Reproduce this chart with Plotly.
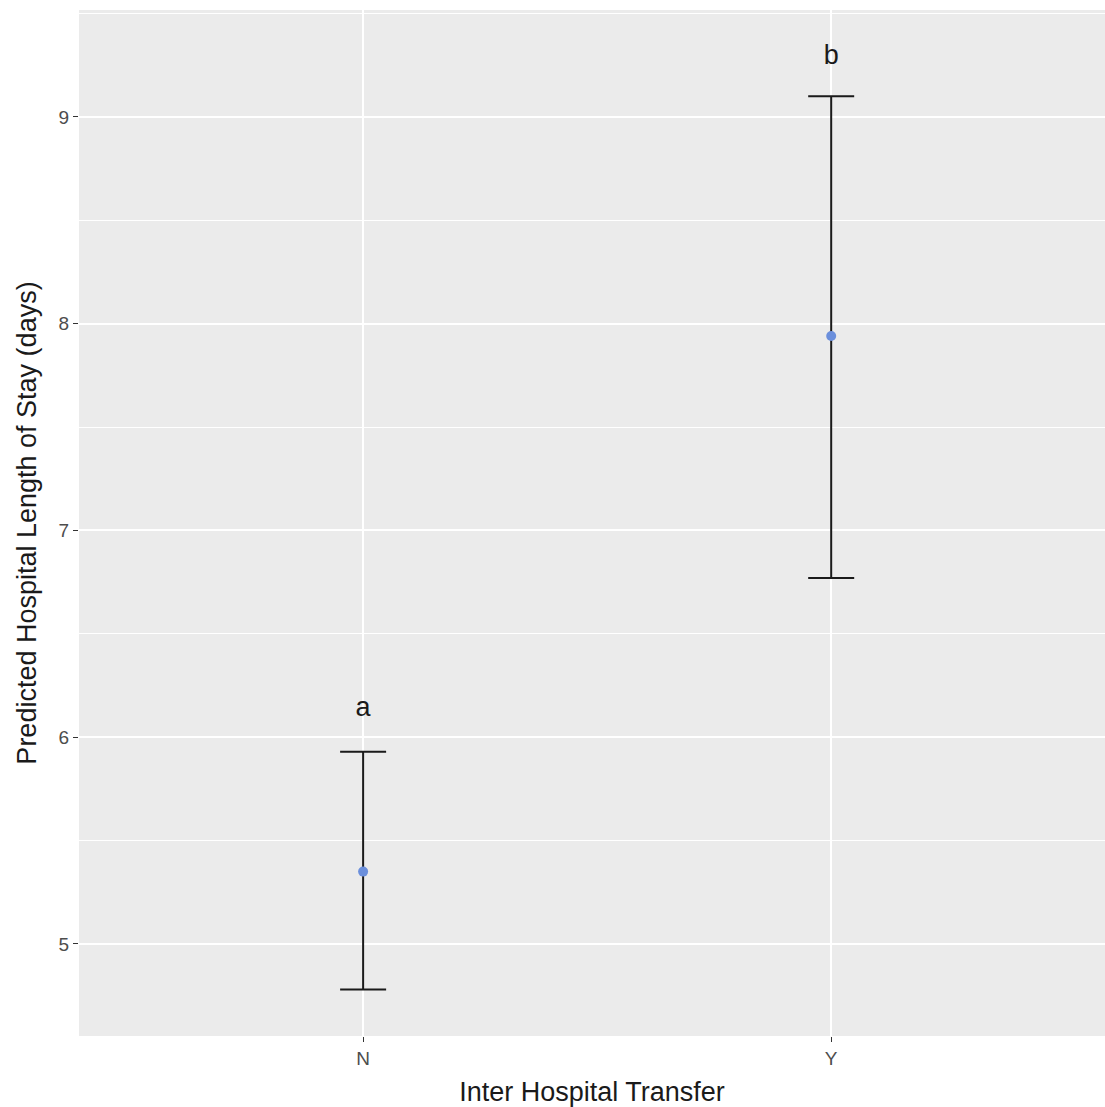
import plotly.graph_objects as go

categories = ["N", "Y"]
predicted = [5.35, 7.94]
upper = [5.93, 9.10]
lower = [4.78, 6.77]
letters = ["a", "b"]
letter_y = [6.135, 9.29]

xidx = list(range(len(categories)))
FONT = "Liberation Sans, Arial, sans-serif"

fig = go.Figure()
fig.add_trace(go.Scatter(
    x=xidx, y=predicted, mode="markers",
    marker=dict(color="#6b8fdc", size=10),
    error_y=dict(type="data", symmetric=False,
                 array=[u - p for u, p in zip(upper, predicted)],
                 arrayminus=[p - l for p, l in zip(predicted, lower)],
                 color="#1a1a1a", thickness=2, width=23),
    showlegend=False, hoverinfo="skip",
))
fig.add_trace(go.Scatter(
    x=xidx, y=letter_y, mode="text", text=letters,
    textfont=dict(size=27, color="#1a1a1a", family=FONT),
    showlegend=False, hoverinfo="skip",
))

fig.update_layout(
    width=1105, height=1107,
    margin=dict(l=79, r=0, t=10, b=71),
    paper_bgcolor="white", plot_bgcolor="#ebebeb",
    font=dict(family=FONT),
    xaxis=dict(
        range=[-0.607, 1.585], tickvals=xidx, ticktext=categories,
        showgrid=True, gridcolor="white", gridwidth=2, zeroline=False,
        ticks="outside", ticklen=5, tickcolor="#333333", tickwidth=1,
        tickfont=dict(size=19, color="#4d4d4d"),
        title=dict(text="Inter Hospital Transfer", font=dict(size=27, color="#1a1a1a"), standoff=18),
        showline=False,
    ),
    yaxis=dict(
        range=[4.555, 9.517], tickvals=[5, 6, 7, 8, 9],
        showgrid=True, gridcolor="white", gridwidth=2, zeroline=False,
        ticks="outside", ticklen=5, tickcolor="#333333", tickwidth=1,
        tickfont=dict(size=19, color="#4d4d4d"),
        minor=dict(tickvals=[5.5, 6.5, 7.5, 8.5, 9.5], showgrid=True, gridcolor="white", gridwidth=1, ticks=""),
        title=dict(text="Predicted Hospital Length of Stay (days)", font=dict(size=27, color="#1a1a1a"), standoff=14),
        showline=False,
    ),
)

fig.write_html("out.html", config={"displayModeBar": False},
               post_script="document.body.style.margin='0';document.body.style.overflow='hidden';")
